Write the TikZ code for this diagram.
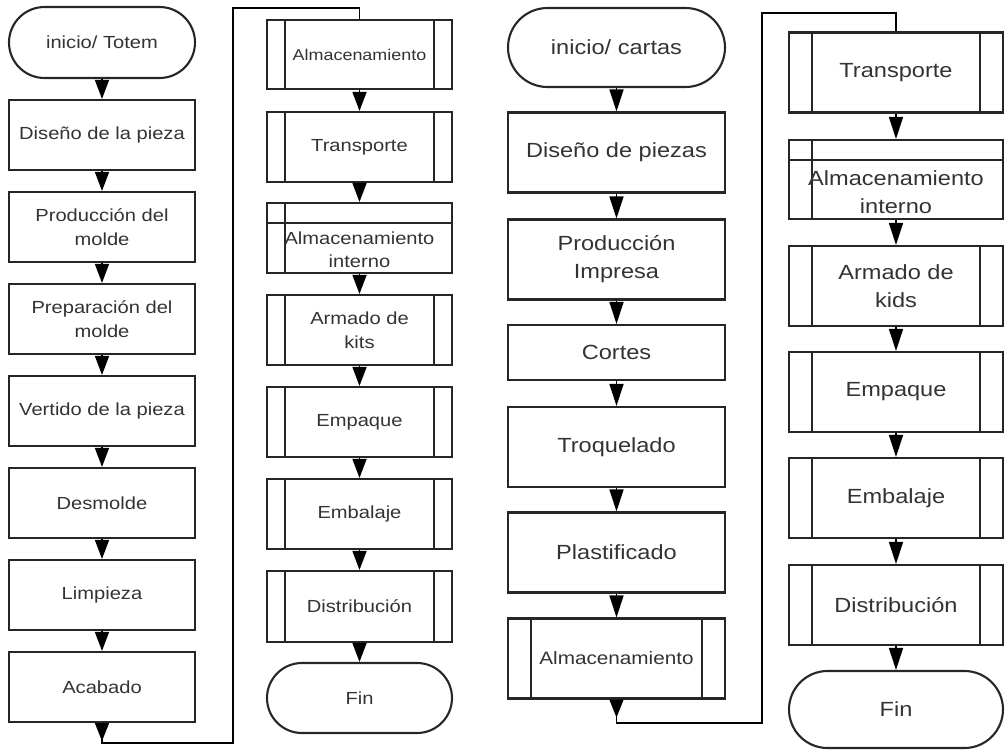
\documentclass[tikz,border=0pt]{standalone}
\usepackage{fontspec}
\setmainfont{Liberation Sans}[FakeStretch=1.15]
\usetikzlibrary{arrows.meta,shapes.misc}

\tikzset{
  box/.style={draw=black!85, line width=2.1pt, rectangle, inner sep=0pt,
    align=center, text=black!80},
  term/.style={box, rounded rectangle},
  % subprocess: two inner vertical bars
  sub/.style={box, path picture={
    \draw[line width=1.8pt, black!85]
      ([xshift=#1]path picture bounding box.north west) --
      ([xshift=#1]path picture bounding box.south west)
      ([xshift=-#1]path picture bounding box.north east) --
      ([xshift=-#1]path picture bounding box.south east);}},
  % internal storage: left bar plus top band
  intstore/.style 2 args={box, path picture={
    \draw[line width=1.8pt, black!85]
      ([xshift=#1]path picture bounding box.north west) --
      ([xshift=#1]path picture bounding box.south west)
      ([yshift=-#2]path picture bounding box.north west) --
      ([yshift=-#2]path picture bounding box.north east);}},
  colA/.style={minimum width=186pt, font=\fontsize{17.5}{23.5}\selectfont},
  colB/.style={minimum width=185pt, font=\fontsize{17.5}{23.5}\selectfont},
  colC/.style={minimum width=217pt, font=\fontsize{20.5}{28}\selectfont},
  colD/.style={minimum width=214pt, font=\fontsize{20.5}{28}\selectfont},
  flow/.style={line width=1.5pt, black, -{Triangle[length=19pt,width=14pt]}},
  flowC/.style={line width=1.5pt, black, -{Triangle[length=22pt,width=14pt]}},
  jump/.style={line width=1.5pt, black, {Triangle[reversed,length=18pt,width=14pt]}-},
}

\begin{document}
\begin{tikzpicture}[x=1pt, y=-1pt]
\useasboundingbox (0,0) rectangle (1005,750);

% --- Totem: first column
\node[term, colA, minimum height=71pt] (t1) at (102,42.5) {inicio/ Totem};
\node[box, colA, minimum height=70pt] (t2) at (102,135) {Diseño de la pieza};
\node[box, colA, minimum height=70pt] (t3) at (102,227) {Producción del\\molde};
\node[box, colA, minimum height=70pt] (t4) at (102,319) {Preparación del\\molde};
\node[box, colA, minimum height=70pt] (t5) at (102,411) {Vertido de la pieza};
\node[box, colA, minimum height=70pt] (t6) at (102,503) {Desmolde};
\node[box, colA, minimum height=70pt] (t7) at (102,595) {Limpieza};
\node[box, colA, minimum height=70pt] (t8) at (102,687) {Acabado};

% --- Totem: second column
\node[sub=18pt, colB, minimum height=69pt, font=\fontsize{15.6}{21}\selectfont] (t9) at (359.5,54.5) {Almacenamiento};
\node[sub=18pt, colB, minimum height=70pt] (t10) at (359.5,147) {Transporte};
\node[intstore={18pt}{20pt}, colB, minimum height=70pt] (t11) at (359.5,238) {\rule{0pt}{36pt}Almacenamiento\\interno};
\node[sub=18pt, colB, minimum height=70pt] (t12) at (359.5,330) {Armado de\\kits};
\node[sub=18pt, colB, minimum height=70pt] (t13) at (359.5,422) {Empaque};
\node[sub=18pt, colB, minimum height=70pt] (t14) at (359.5,514) {Embalaje};
\node[sub=18pt, colB, minimum height=71pt] (t15) at (359.5,606.5) {Distribución};
\node[term, colB, minimum height=70pt] (t16) at (359.5,698) {Fin};

% --- Cartas: third column
\node[term, colC, minimum height=79pt] (c1) at (616.5,47.5) {inicio/ cartas};
\node[box, colC, minimum height=80pt] (c2) at (616.5,152.5) {Diseño de piezas};
\node[box, colC, minimum height=80pt] (c3) at (616.5,259.5) {Producción\\Impresa};
\node[box, colC, minimum height=55pt] (c4) at (616.5,352.5) {Cortes};
\node[box, colC, minimum height=80pt] (c5) at (616.5,447) {Troquelado};
\node[box, colC, minimum height=80pt] (c6) at (616.5,552.5) {Plastificado};
\node[sub=23pt, colC, minimum height=80pt, font=\fontsize{18}{24}\selectfont] (c7) at (616.5,658.5) {Almacenamiento};

% --- Cartas: fourth column
\node[sub=23pt, colD, minimum height=80pt] (c8) at (896,72.5) {Transporte};
\node[intstore={23pt}{20pt}, colD, minimum height=79pt] (c9) at (896,179.5) {\rule{0pt}{41pt}Almacenamiento\\interno};
\node[sub=23pt, colD, minimum height=80pt] (c10) at (896,286) {Armado de\\kids};
\node[sub=23pt, colD, minimum height=80pt] (c11) at (896,392) {Empaque};
\node[sub=23pt, colD, minimum height=80pt] (c12) at (896,498) {Embalaje};
\node[sub=23pt, colD, minimum height=80pt] (c13) at (896,605) {Distribución};
\node[term, colD, minimum height=77pt] (c14) at (896,709.5) {Fin};

% --- straight flow arrows
\foreach \a/\b in {t1/t2,t2/t3,t3/t4,t4/t5,t5/t6,t6/t7,t7/t8,
                   t9/t10,t10/t11,t11/t12,t12/t13,t13/t14,t14/t15,t15/t16}
  \draw[flow] (\a.south) -- (\b.north);
\foreach \a/\b in {c1/c2,c2/c3,c3/c4,c4/c5,c5/c6,c6/c7,
                   c8/c9,c9/c10,c10/c11,c11/c12,c12/c13,c13/c14}
  \draw[flowC] (\a.south) -- (\b.north);

% --- column jumps
\coordinate (ja) at (233,743);
\coordinate (jb) at (233,8);
\draw[jump] (t8.south) -- (t8.south |- ja) -- (ja) -- (jb) -- (t9.north |- jb) -- (t9.north);
\coordinate (jc) at (762,723);
\coordinate (jd) at (762,13);
\draw[jump] (c7.south) -- (c7.south |- jc) -- (jc) -- (jd) -- (c8.north |- jd) -- (c8.north);
\end{tikzpicture}
\end{document}
